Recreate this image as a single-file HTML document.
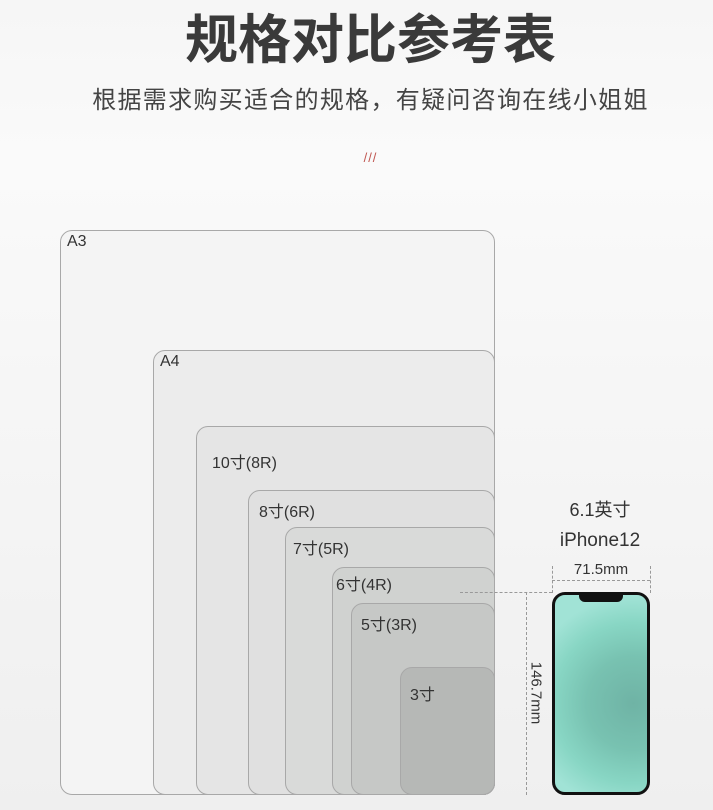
<!DOCTYPE html>
<html><head><meta charset="utf-8"><style>
body{margin:0;width:713px;height:810px;overflow:hidden;background:linear-gradient(180deg,#f6f6f6 0%,#fafafa 20%,#efefef 100%);font-family:"Liberation Sans","Noto Sans CJK SC",sans-serif;position:relative}
.t{position:absolute;left:0;width:713px;text-align:center;color:#3a3a3a}
.r{position:absolute;right:218px;bottom:15px;border:1px solid #a8a8a8;border-radius:12px;box-sizing:border-box}
.r span{position:absolute;font-size:16px;color:#333}
.d{position:absolute;border-color:#999;border-style:dashed;border-width:0}
</style></head><body>
<div class="t" style="left:14px;top:10px;font-size:53px;font-weight:bold;line-height:62px">规格对比参考表</div>
<div class="t" style="left:14px;top:86px;font-size:24px;line-height:30px;color:#444;letter-spacing:1.3px">根据需求购买适合的规格，有疑问咨询在线小姐姐</div>
<div class="t" style="left:14px;top:150px;font-size:13px;color:#c0554f;letter-spacing:1px">///</div>

<div class="r" style="left:60px;top:230px;background:#f4f4f4"><span style="left:6px;top:2px">A3</span></div>
<div class="r" style="left:153px;top:350px;background:#ececec"><span style="left:6px;top:2px">A4</span></div>
<div class="r" style="left:196px;top:426px;background:#e5e5e5"><span style="left:15px;top:22px">10寸(8R)</span></div>
<div class="r" style="left:248px;top:490px;background:#e0e0e0"><span style="left:10px;top:7px">8寸(6R)</span></div>
<div class="r" style="left:285px;top:527px;background:#d9dad9"><span style="left:7px;top:7px">7寸(5R)</span></div>
<div class="r" style="left:332px;top:567px;background:#d0d2d0"><span style="left:3px;top:3px">6寸(4R)</span></div>
<div class="r" style="left:351px;top:603px;background:#c6c8c6"><span style="left:9px;top:7px">5寸(3R)</span></div>
<div class="r" style="left:400px;top:667px;background:#b6b8b6"><span style="left:9px;top:13px">3寸</span></div>

<div class="t" style="left:550px;width:100px;top:496px;font-size:18px;color:#333">6.1英寸</div>
<div class="t" style="left:550px;width:100px;top:530px;font-size:19px;color:#333">iPhone12</div>
<div class="t" style="left:552px;width:98px;top:561px;font-size:15px;color:#333">71.5mm</div>
<div class="d" style="left:552px;top:566px;height:27px;border-left-width:1px"></div>
<div class="d" style="left:650px;top:566px;height:27px;border-left-width:1px"></div>
<div class="d" style="left:552px;top:580px;width:98px;border-top-width:1px"></div>
<div class="d" style="left:460px;top:592px;width:92px;border-top-width:1px"></div>
<div class="d" style="left:526px;top:592px;height:203px;border-left-width:1px"></div>
<div style="position:absolute;left:536px;top:693px;transform:translate(-50%,-50%) rotate(90deg);font-size:15px;color:#333;white-space:nowrap">146.7mm</div>

<div style="position:absolute;left:552px;top:592px;width:98px;height:203px;box-sizing:border-box;border:3px solid #111;border-radius:13px;overflow:hidden;background:radial-gradient(circle at 85% 55%,#6fb3a5 0%,#78c2b1 35%,#88d6c4 60%,#a1e3d6 80%)">
<div style="position:absolute;left:24px;top:-2px;width:44px;height:9px;background:#111;border-radius:0 0 6px 6px"></div>
</div>
</body></html>
